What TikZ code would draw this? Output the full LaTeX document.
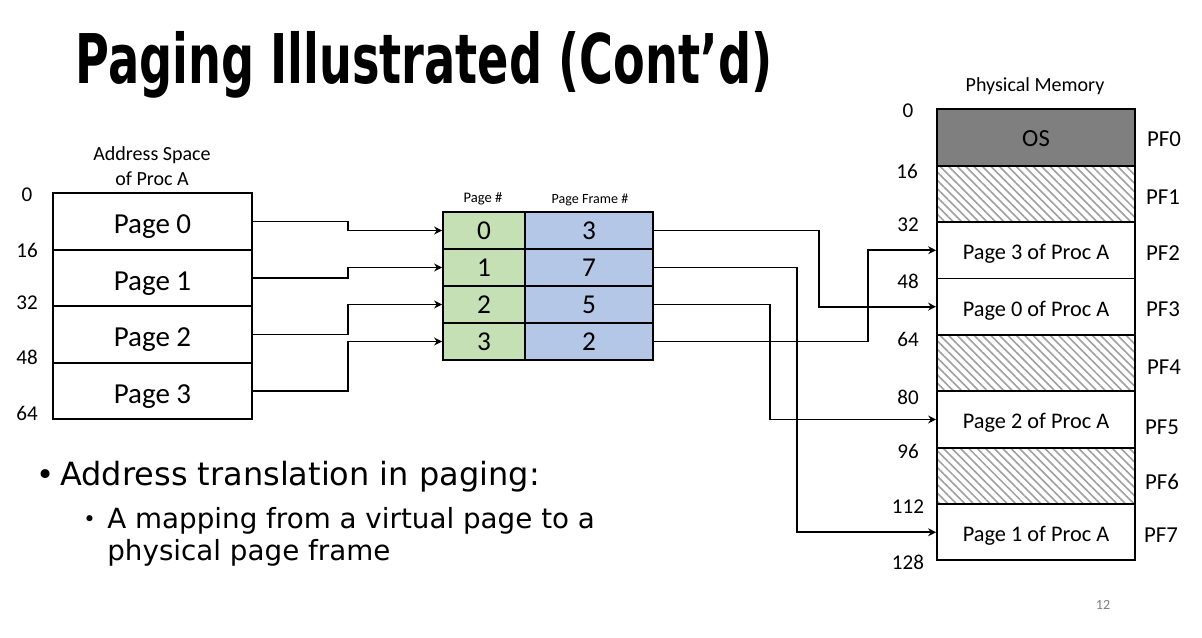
\documentclass[tikz,border=0pt]{standalone}
\usepackage{fontspec}
\setmainfont{Carlito}
\newfontfamily\comic{DejaVu Sans}
\usepackage{tikz}
\usetikzlibrary{arrows.meta, patterns.meta}
\definecolor{pagegreen}{RGB}{197,224,180}
\definecolor{frameblue}{RGB}{180,199,231}
\definecolor{osgray}{RGB}{127,127,127}
\tikzstyle{page} = [rectangle, minimum width=3.98cm, minimum height=1.13cm, node distance=1.13cm, text centered, text height=15.7pt, text depth=1.6pt, draw=black, line width=1.1pt, font=\fontsize{16.5}{18}\selectfont]
\tikzstyle{vpn} = [rectangle, minimum width=1.64cm, minimum height=0.74cm, node distance=0.74cm, text centered, draw=black, line width=1.1pt, fill=pagegreen, font=\fontsize{15.5}{17}\selectfont]
\tikzstyle{pfn} = [vpn, minimum width=2.56cm, fill=frameblue]
\tikzstyle{frame} = [rectangle, minimum width=3.96cm, minimum height=1.128cm, node distance=1.128cm, text centered, text height=12pt, text depth=1.3pt, draw=black, line width=1.1pt, font=\fontsize{12.7}{14}\selectfont]
\tikzstyle{free} = [frame, pattern={Lines[angle=-45, distance=3.4pt, line width=0.9pt]}, pattern color=gray!75]
\tikzstyle{os} = [frame, fill=osgray, font=\fontsize{14}{16}\selectfont]
\tikzstyle{addr} = [inner sep=0pt, font=\fontsize{12}{14}\selectfont]
\tikzstyle{caption} = [inner sep=0pt, align=center, font=\fontsize{11.4}{14}\selectfont]
\tikzstyle{slide} = [anchor=base west, inner sep=0pt]
\tikzstyle{arrow} = [line width=1pt, -{Stealth[length=4.5pt, width=4.5pt]}]

\begin{document}
\begin{tikzpicture}[x=0.02cm, y=-0.02cm]
	\fill [white] (0,0) rectangle (1202,637);
	\useasboundingbox (0,0) rectangle (1202,637);
	
	\node (title) [slide, font=\comic\bfseries\fontsize{39}{42}\selectfont] at (75,83) {\scalebox{0.675}[1]{Paging Illustrated (Cont’d)}};
	
	% address space of process A
	\node (ascap) [caption] at (152,166) {Address Space\\of Proc A};
	\node (p0) [page] at (152.5,221.5) {Page 0};
	\node (p1) [page, below of=p0] {Page 1};
	\node (p2) [page, below of=p1] {Page 2};
	\node (p3) [page, below of=p2] {Page 3};
	\node (va0) [addr] at (27,195) {0};
	\node (va16) [addr] at (27,250) {16};
	\node (va32) [addr] at (27,303) {32};
	\node (va48) [addr] at (27,357) {48};
	\node (va64) [addr] at (27,413) {64};
	
	% page table
	\node (vpncap) [inner sep=0pt, font=\fontsize{8.3}{10}\selectfont] at (483,199) {Page \#};
	\node (pfncap) [inner sep=0pt, font=\fontsize{8}{10}\selectfont] at (590,200) {Page Frame \#};
	\node (g0) [vpn] at (484,230.5) {0};
	\node (g1) [vpn, below of=g0] {1};
	\node (g2) [vpn, below of=g1] {2};
	\node (g3) [vpn, below of=g2] {3};
	\node (f0) [pfn, right of=g0, node distance=2.1cm] {3};
	\node (f1) [pfn, below of=f0] {7};
	\node (f2) [pfn, below of=f1] {5};
	\node (f3) [pfn, below of=f2] {2};
	
	% physical memory
	\node (pmcap) [caption] at (1035,86) {Physical Memory};
	\node (m0) [os] at (1036,137.5) {OS};
	\node (m1) [free, below of=m0] {};
	\node (m2) [frame, below of=m1] {Page 3 of Proc A};
	\node (m3) [frame, below of=m2] {Page 0 of Proc A};
	\node (m4) [free, below of=m3] {};
	\node (m5) [frame, below of=m4] {Page 2 of Proc A};
	\node (m6) [free, below of=m5] {};
	\node (m7) [frame, below of=m6] {Page 1 of Proc A};
	\node (pa0) [addr] at (908,111) {0};
	\node (pa16) [addr] at (907,171) {16};
	\node (pa32) [addr] at (908,225) {32};
	\node (pa48) [addr] at (908,281) {48};
	\node (pa64) [addr] at (908,339) {64};
	\node (pa80) [addr] at (908,397) {80};
	\node (pa96) [addr] at (908,451) {96};
	\node (pa112) [addr] at (908,507) {112};
	\node (pa128) [addr] at (908,562) {128};
	\node (pf0) [addr, font=\fontsize{13}{15}\selectfont] at (1164,139) {PF0};
	\node (pf1) [addr, font=\fontsize{13}{15}\selectfont] at (1163,197) {PF1};
	\node (pf2) [addr, font=\fontsize{13}{15}\selectfont] at (1163,253) {PF2};
	\node (pf3) [addr, font=\fontsize{13}{15}\selectfont] at (1163,309) {PF3};
	\node (pf4) [addr, font=\fontsize{13}{15}\selectfont] at (1164,367) {PF4};
	\node (pf5) [addr, font=\fontsize{13}{15}\selectfont] at (1162,427) {PF5};
	\node (pf6) [addr, font=\fontsize{13}{15}\selectfont] at (1162,482) {PF6};
	\node (pf7) [addr, font=\fontsize{13}{15}\selectfont] at (1161,535) {PF7};
	
	% lookups
	\draw [arrow] (p0.east) -- ++(95,0) |- (g0.west);
	\draw [arrow] (p1.east) -- ++(95,0) |- (g1.west);
	\draw [arrow] (p2.east) -- ++(95,0) |- (g2.west);
	\draw [arrow] (p3.east) -- ++(95,0) |- (g3.west);
	\draw [arrow] (f0.east) -- ++(165,0) |- (m3.west);
	\draw [arrow] (f1.east) -- ++(143,0) |- (m7.west);
	\draw [arrow] (f2.east) -- ++(116,0) |- (m5.west);
	\draw [arrow] (f3.east) -- ++(214,0) |- (m2.west);
	
	% bullets
	\node (dot1) [slide, font=\comic\fontsize{17.5}{20}\selectfont] at (36,485) {•};
	\node (line1) [slide, font=\comic\fontsize{18.2}{20}\selectfont] at (60,485) {Address translation in paging:};
	\node (dot2) [slide, font=\comic\fontsize{12}{14}\selectfont] at (83,526) {•};
	\node (line2) [slide, font=\comic\fontsize{15.8}{18}\selectfont] at (107,528) {A mapping from a virtual page to a};
	\node (line3) [slide, font=\comic\fontsize{15.8}{18}\selectfont] at (107,560) {physical page frame};
	
	\node (slideno) [inner sep=0pt, text=gray, font=\fontsize{8}{10}\selectfont] at (1103,605) {12};
	
\end{tikzpicture}
\end{document}
